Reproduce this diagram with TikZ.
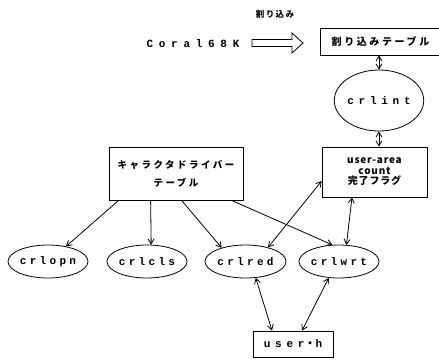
\documentclass[tikz,border=0pt]{standalone}
\usepackage{fontspec}
\newfontfamily\jp{Noto Sans CJK JP}
\newfontfamily\jpua[LetterSpace=8]{Noto Sans CJK JP}
\newfontfamily\jpsp[LetterSpace=26]{Noto Sans CJK JP}
\newfontfamily\jpspb[LetterSpace=16]{Noto Sans CJK JP}
\newfontfamily\monoa[LetterSpace=30]{Liberation Mono}
\newfontfamily\monob[LetterSpace=43]{Liberation Mono}
\newfontfamily\monoc[LetterSpace=52]{Liberation Mono}
\usetikzlibrary{shapes.geometric,arrows.meta,calc}
\begin{document}
\begin{tikzpicture}[x=1pt,y=-1pt,line width=0.8pt,
  box/.style={draw,rectangle,inner sep=0pt},
  oval/.style={draw,ellipse,inner sep=0pt,minimum width=80pt,minimum height=33pt,
    font={\monoa\bfseries\fontsize{11}{13}\selectfont}},
  toarr/.style={-{Straight Barb[length=5pt,width=6pt]}},
  both/.style={{Straight Barb[length=5pt,width=6pt]}-{Straight Barb[length=5pt,width=6pt]}},
  hollow/.style={draw,line width=0.8pt,fill=white}]
\useasboundingbox (0,0) rectangle (439,360);

\node[font={\jpspb\bfseries\fontsize{8.5}{10}\selectfont}] (lbl) at (275,14) {割り込み};
\node[font={\monoc\bfseries\fontsize{11}{13}\selectfont}] (coral) at (193,44) {Coral68K};
\draw[hollow] (252,39.5) -- (292,39.5) -- (292,33) -- (303,43) -- (292,53) -- (292,46.5) -- (252,46.5) -- cycle;
\node[box,minimum width=121pt,minimum height=27pt,font={\jpsp\bfseries\fontsize{10}{12}\selectfont}] (table) at (380.5,41.5) {割り込みテーブル};

\node[oval,minimum width=82pt,minimum height=61pt,font={\monob\bfseries\fontsize{11}{13}\selectfont}] (crlint) at (379,100.5) {crlint};
\node[box,minimum width=105pt,minimum height=50pt,align=center,font={\jpua\bfseries\fontsize{10}{10.5}\selectfont}] (ua) at (374.5,172) {user-area\\count\\完了フラグ};
\node[box,minimum width=134pt,minimum height=53pt,align=center,font={\jpsp\bfseries\fontsize{9.5}{18}\selectfont}] (chara) at (176,173.5) {キャラクタドライバー\\テーブル};

\node[oval] (crlopn) at (48,261.5) {crlopn};
\node[oval] (crlcls) at (147,261.5) {crlcls};
\node[oval,minimum width=81pt] (crlred) at (245.5,261.5) {crlred};
\node[oval] (crlwrt) at (339,261.5) {crlwrt};
\node[box,minimum width=80pt,minimum height=26pt,font={\monob\bfseries\fontsize{11}{13}\selectfont}] (userh) at (293,344) {user{\jp\bfseries ・}h};

\draw[both] (crlint.north) -- (crlint.north |- table.south);
\draw[both] (crlint.south) -- (crlint.south |- ua.north);

\draw[toarr] ($(chara.south west)+(10,0)$) -- (crlopn.40);
\draw[toarr] ($(chara.south west)+(42,0)$) -- (crlcls.76);
\draw[toarr] ($(chara.south west)+(73,0)$) -- (crlred.150);
\draw[toarr] ($(chara.south west)+(123,0)$) -- (crlwrt.112);

\draw[both] (crlred.32) -- ($(ua.west)+(0,9)$);
\draw[both] ($(ua.south)+(-22.5,0)$) -- (crlwrt.66);
\draw[both] (crlred.-58) -- ($(userh.north)+(-21,0)$);
\draw[both] (crlwrt.-122) -- ($(userh.north)+(9,0)$);
\end{tikzpicture}
\end{document}
